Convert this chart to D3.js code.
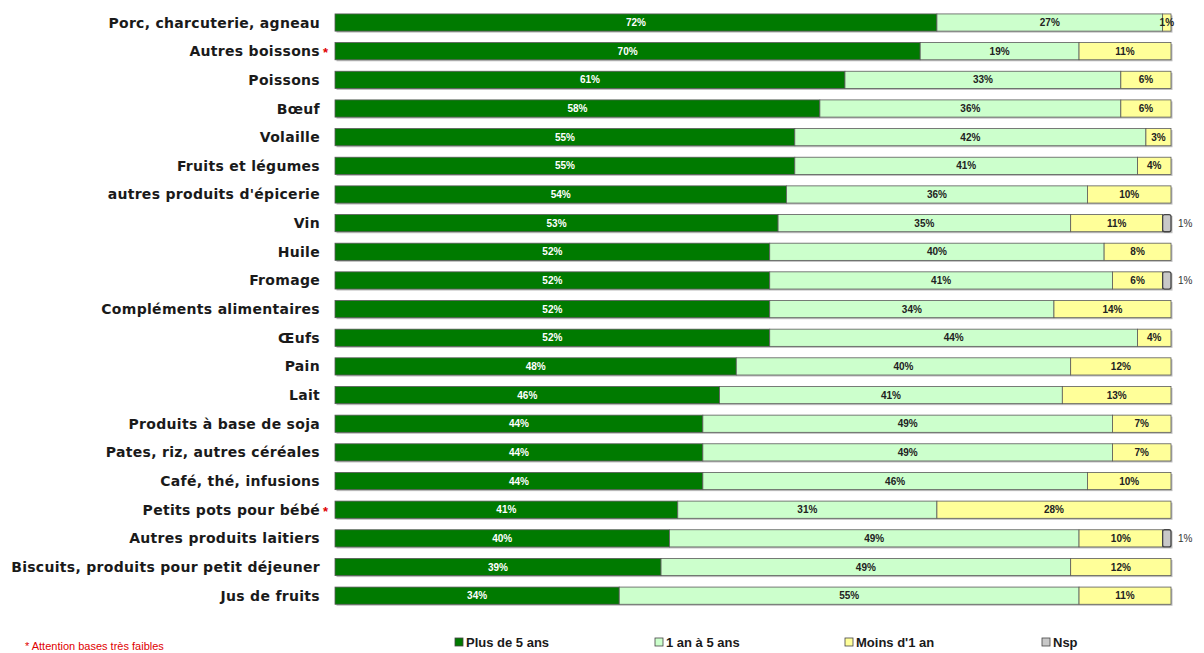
<!DOCTYPE html>
<html><head><meta charset="utf-8">
<script src="https://cdn.jsdelivr.net/npm/d3@7"></script>
<style>body{margin:0;background:#fff}svg{display:block}</style>
</head><body>
<svg id="c" width="1204" height="653"></svg>
<script>
const categories = ["Porc, charcuterie, agneau","Autres boissons","Poissons","Bœuf","Volaille","Fruits et légumes","autres produits d'épicerie","Vin","Huile","Fromage","Compléments alimentaires","Œufs","Pain","Lait","Produits à base de soja","Pates, riz, autres céréales","Café, thé, infusions","Petits pots pour bébé","Autres produits laitiers","Biscuits, produits pour petit déjeuner","Jus de fruits"];
const starred = ["Autres boissons","Petits pots pour bébé"];
const plus5 =  [72,70,61,58,55,55,54,53,52,52,52,52,48,46,44,44,44,41,40,39,34];
const un5 =    [27,19,33,36,42,41,36,35,40,41,34,44,40,41,49,49,46,31,49,49,55];
const moins1 = [1,11,6,6,3,4,10,11,8,6,14,4,12,13,7,7,10,28,10,12,11];
const nsp =    [0,0,0,0,0,0,0,1,0,1,0,0,0,0,0,0,0,0,1,0,0];
const seriesNames = ["Plus de 5 ans","1 an à 5 ans","Moins d'1 an","Nsp"];
const colors = ["#007a00","#ccffcc","#ffff99","#c8c8c8"];
const footnote = "* Attention bases très faibles";

const svg = d3.select("#c");
const x = d3.scaleLinear().domain([0,100]).range([335,1171]);
const y = d3.scaleBand().domain(categories).range([8.2,610]).paddingInner(0.4).paddingOuter(0.2);
const bh = y.bandwidth();

const rows = categories.map((c,i)=>({cat:c, vals:[plus5[i],un5[i],moins1[i],nsp[i]]}));
const font = "'Liberation Sans', Arial, sans-serif";
const labFont = "'DejaVu Sans', Verdana, sans-serif";

// shadows
svg.append("g").selectAll("rect").data(rows).join("rect")
  .attr("x", x(0)+1.5).attr("y", d=>y(d.cat)+1.5)
  .attr("width", d=>x(d3.sum(d.vals))-x(0)).attr("height", bh)
  .attr("fill","#bdbdbd");

const g = svg.append("g");
rows.forEach(r=>{
  let acc=0;
  r.vals.forEach((v,k)=>{
    if(v<=0){return;}
    const x0=x(acc), x1=x(acc+v);
    const isNsp = k===3;
    g.append("rect")
      .attr("x", x0).attr("y", y(r.cat))
      .attr("width", x1-x0).attr("height", bh)
      .attr("rx", isNsp?2:0)
      .attr("fill", colors[k]).attr("stroke", isNsp?"#444":"#5a5a5a").attr("stroke-width", isNsp?1.3:0.8);
    const t = g.append("text")
      .attr("y", y(r.cat)+bh/2+3.5)
      .attr("font-family", font).attr("font-size", 10).attr("font-weight","bold")
      .attr("fill", k===0?"#ffffff":"#222")
      .text(v+"%");
    if(isNsp){ t.attr("x", x(acc+v)+7).attr("text-anchor","start").attr("font-weight","normal").attr("fill","#333"); }
    else { t.attr("x", (x0+x1)/2).attr("text-anchor","middle"); }
    acc+=v;
  });
});

// category labels
svg.append("g").selectAll("text").data(categories).join("text")
  .attr("x", 320).attr("y", d=>y(d)+bh/2+5)
  .attr("text-anchor","end").attr("font-family", labFont).attr("font-size", 14).attr("font-weight","bold")
  .attr("letter-spacing", 0.3)
  .attr("fill","#1a1a1a").text(d=>d);
svg.append("g").selectAll("text").data(starred).join("text")
  .attr("x", 323).attr("y", d=>y(d)+bh/2+6)
  .attr("font-family", font).attr("font-size", 13).attr("font-weight","bold").attr("fill","#e00000").text("*");

// legend
const legX = [455,655,845,1042];
const lg = svg.append("g");
seriesNames.forEach((s,k)=>{
  lg.append("rect").attr("x",legX[k]).attr("y",638).attr("width",8).attr("height",8)
    .attr("fill",colors[k]).attr("stroke","#444").attr("stroke-width",0.8);
  lg.append("text").attr("x",legX[k]+11).attr("y",647).attr("font-family",font).attr("font-size",13).attr("font-weight","bold")
    .attr("fill","#1a1a1a").text(s);
});
svg.append("text").attr("x",25).attr("y",650).attr("font-family",font).attr("font-size",11)
  .attr("fill","#e00000").text(footnote);
</script>
</body></html>
